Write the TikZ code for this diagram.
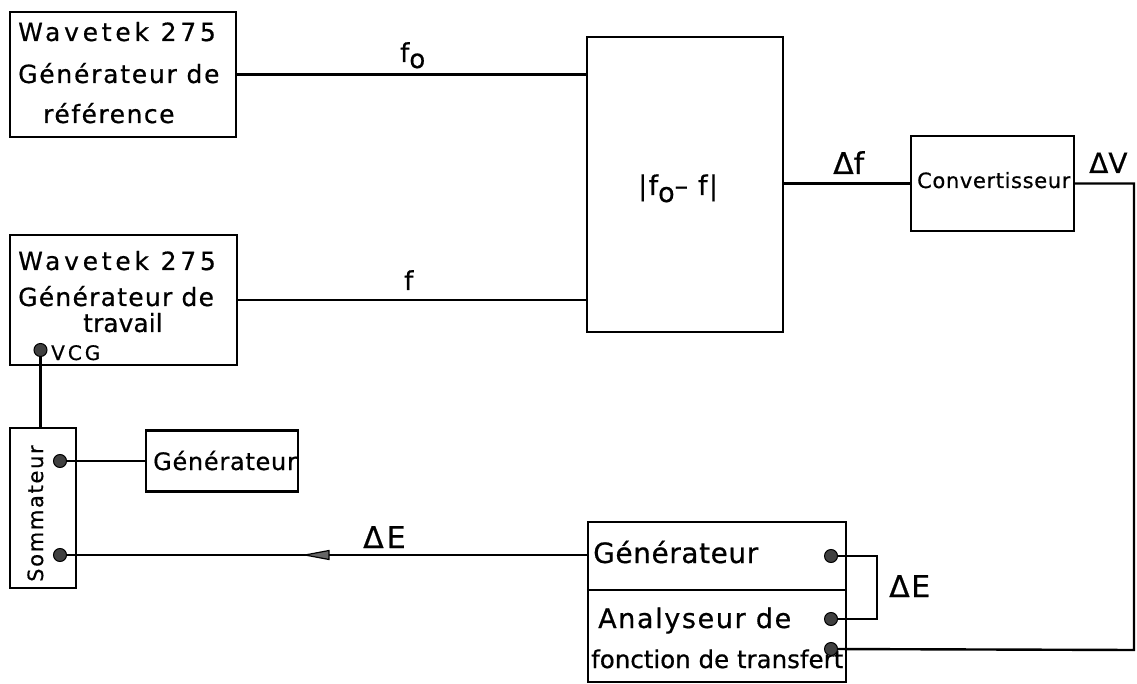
\documentclass[tikz,border=0pt]{standalone}
\usepackage{fontspec}
\setmainfont{DejaVu Sans}[FakeBold=0.6]
\usetikzlibrary{arrows.meta}
\newcommand{\tx}[3]{{\fontsize{#1}{#1}\selectfont\addfontfeatures{LetterSpace=#2}#3}}
\begin{document}
\begin{tikzpicture}[x=1pt,y=-1pt,line width=2.4pt,
  box/.style={draw,inner sep=0pt,line width=2.4pt},
  lab/.style={anchor=base west,inner sep=0pt},
  dot/.style={circle,fill=black!75,draw=black,line width=1pt,inner sep=0pt,minimum size=13pt},
  head/.style={draw=black,fill=black!60,line width=1.2pt,line join=miter}]
\useasboundingbox (0,0) rectangle (1137,684);
% boxes
\node[box,minimum width=226pt,minimum height=125pt] (ref) at (123,74.5) {};
\node[box,minimum width=227pt,minimum height=130pt] (trav) at (123.5,300) {};
\node[box,minimum width=196pt,minimum height=295pt] (mid) at (685,184.5) {};
\node[box,minimum width=163pt,minimum height=95pt] (conv) at (992.5,183.5) {};
\node[box,minimum width=66pt,minimum height=160pt] (som) at (43,508) {};
\node[box,minimum width=152pt,minimum height=61pt] (gen) at (222,461) {};
\node[box,minimum width=258pt,minimum height=160pt] (ana) at (717,602) {};
\draw (ana.west |- 0,590) -- (ana.east |- 0,590);
% texts
\node[lab] (r1) at (17,41) {\tx{25}{15}{Wavetek 275}};
\node[lab] (r2) at (17,83) {\tx{25}{7}{Générateur de}};
\node[lab] (r3) at (42,123) {\tx{25}{6}{référence}};
\node[lab] (w1) at (17,270) {\tx{25}{15}{Wavetek 275}};
\node[lab] (w2) at (17,306) {\tx{25}{5}{Générateur de}};
\node[lab] (w3) at (82,332) {\tx{25}{0}{travail}};
\node[lab] (w4) at (50,360) {\tx{20}{15}{VCG}};
\node[lab] (tmid) at (637,195) {\tx{27}{5}{|f\raisebox{-7pt}{o}– f|}};
\node[lab] (tconv) at (916,188) {\tx{21}{3}{Convertisseur}};
\node[lab,rotate=90] (tsom) at (43,583) {\tx{21}{8}{Sommateur}};
\node[lab] (tgen) at (152,470) {\tx{24}{3}{Générateur}};
\node[lab] (a1) at (592,563) {\tx{28}{2}{Générateur}};
\node[lab] (a2) at (597,628) {\tx{27}{6}{Analyseur de}};
\node[lab] (a3) at (590,668) {\tx{24.5}{0}{fonction de transfert}};
% labels
\node[lab] (lfo) at (399,62) {\tx{26}{0}{f\raisebox{-6pt}{o}}};
\node[lab] (lf) at (403,290) {\tx{26}{0}{f}};
\node[lab] (ldf) at (832,174) {\tx{30}{0}{Δf}};
\node[lab] (ldv) at (1088,173) {\tx{28}{0}{ΔV}};
\node[lab] (lde1) at (888,597) {\tx{30}{5}{ΔE}};
\node[lab] (lde2) at (362,548) {\tx{30}{10}{ΔE}};
% dots
\node[dot] (vdot) at (40.5,350) {};
\node[dot] (sd1) at (60,461) {};
\node[dot] (sd2) at (60,555) {};
\node[dot] (d1) at (831,556) {};
\node[dot] (d2) at (831,619) {};
\node[dot] (d3) at (831,649) {};
% connectors
\draw (ref.east) -- (ref.east -| mid.west);
\draw (trav.east) -- (trav.east -| mid.west);
\draw (mid.east |- conv.west) -- (conv.west);
\coordinate (cr) at (1134,650);
\draw (conv.east) -| (cr) -- (d3);
\coordinate (bk) at (877,556);
\draw (d1) -- (bk) |- (d2);
\draw (vdot) -- (vdot |- som.north);
\draw (sd1) -- (gen.west);
\coordinate (ain) at (ana.west |- sd2);
\coordinate (tip) at (305,555);
\draw (ain) -- (sd2);
\draw[head] (tip) -- ++(24,-4.5) -- ++(0,9) -- cycle;
\end{tikzpicture}
\end{document}
